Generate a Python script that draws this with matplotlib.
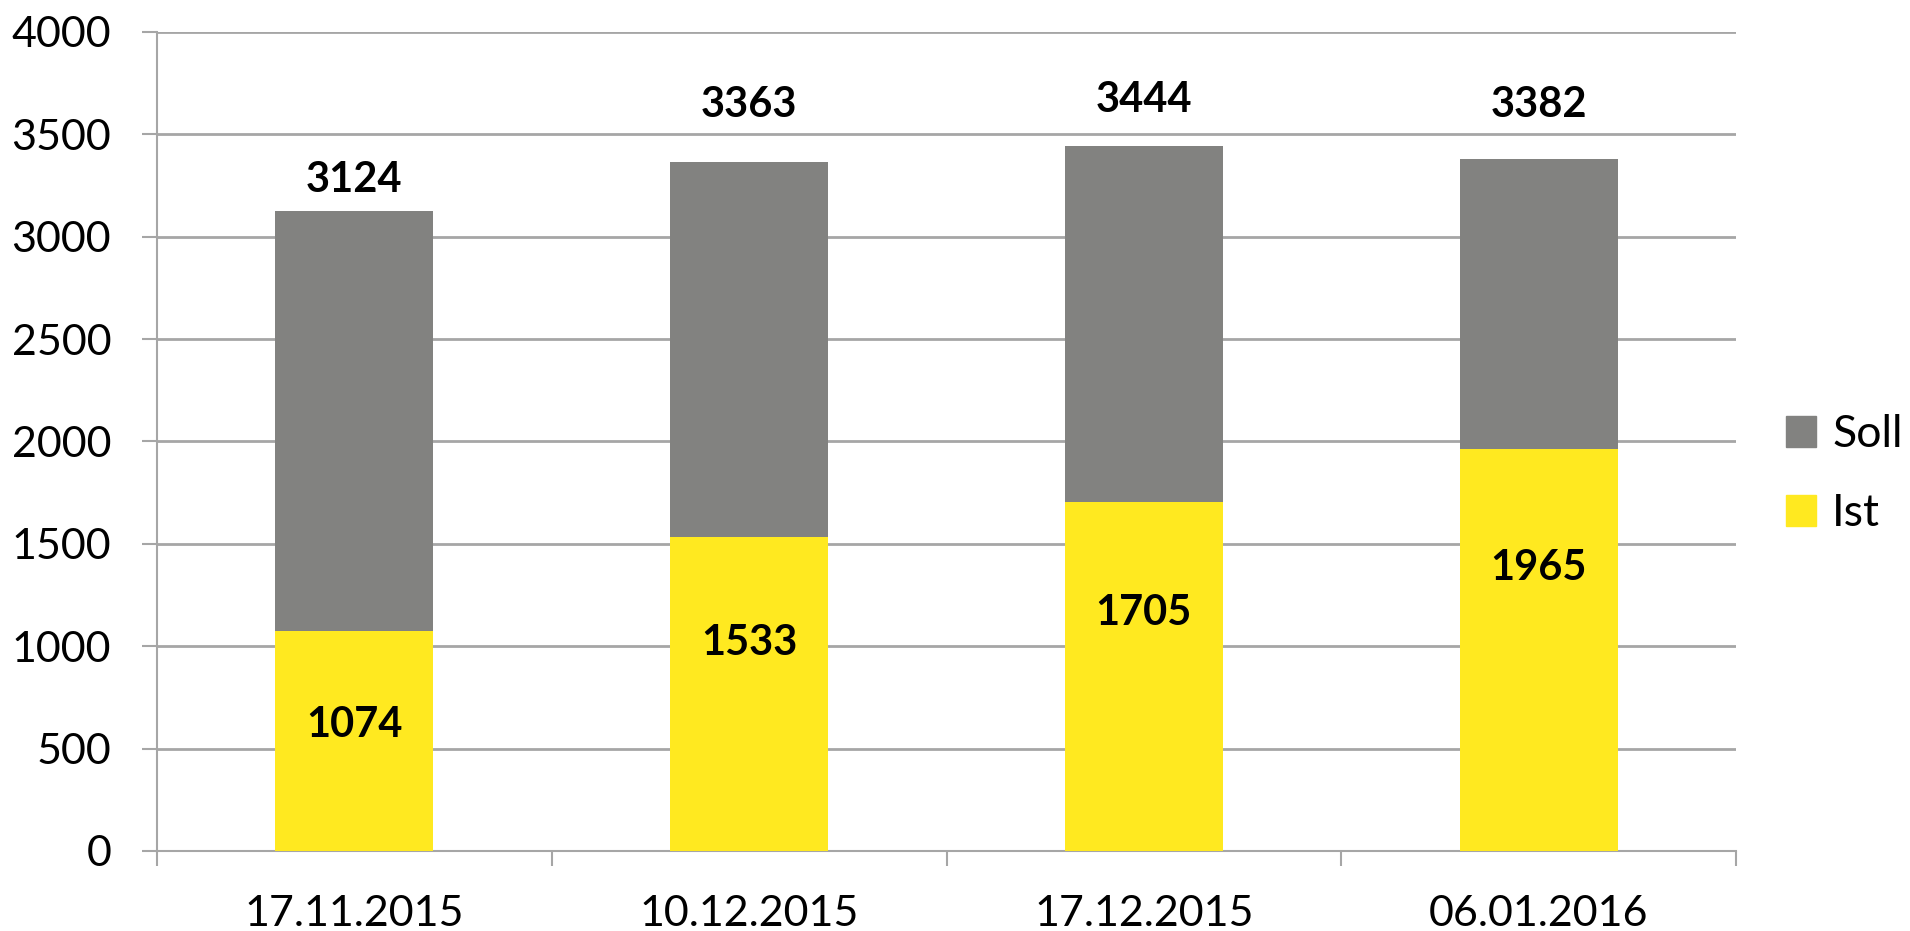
import matplotlib
matplotlib.use("Agg")
import matplotlib.pyplot as plt
from matplotlib.patches import Patch
import numpy as np

categories = ["17.11.2015", "10.12.2015", "17.12.2015", "06.01.2016"]
soll = [3124, 3363, 3444, 3382]
ist = [1074, 1533, 1705, 1965]
yticks = [0, 500, 1000, 1500, 2000, 2500, 3000, 3500, 4000]
# vertical placement of the value labels as seen in the reference
soll_label_y = [3278, 3645, 3669, 3645]
ist_label_y = [614, 1015, 1162, 1382]

GREY = "#828280"
YELLOW = "#FFE920"
GRID = "#A6A6A6"

plt.rcParams["font.family"] = ["Lato", "DejaVu Sans"]

fig = plt.figure(figsize=(19.10, 9.31), dpi=100)
ax = fig.add_axes([157/1910, 1-851/931, (1736-157)/1910, (851-32)/931])

x = np.arange(len(categories))
w = 0.40
ax.bar(x, soll, width=w, color=GREY, zorder=2)
ax.bar(x, ist, width=w, color=YELLOW, zorder=3)

for xi, s, sy, i, iy in zip(x, soll, soll_label_y, ist, ist_label_y):
    ax.text(xi, sy, str(s), ha="center", va="center", fontsize=30, fontweight="bold", zorder=4)
    ax.text(xi, iy, str(i), ha="center", va="center", fontsize=30, fontweight="bold", zorder=4)

ax.set_xlim(-0.5, len(categories)-0.5)
ax.set_ylim(0, 4000)
ax.set_yticks(yticks)
ax.set_yticklabels([str(t) for t in yticks], fontsize=31)
ax.yaxis.grid(True, color=GRID, linewidth=2, zorder=0)
ax.set_axisbelow(True)
ax.tick_params(axis="y", length=11, width=1.5, color=GRID, pad=22)

ax.set_xticks(x)
ax.set_xticklabels(categories, fontsize=31)
ax.tick_params(axis="x", which="major", length=0, pad=32)
ax.set_xticks(np.arange(len(categories)+1) - 0.5, minor=True)
ax.tick_params(axis="x", which="minor", length=11, width=1.5, color=GRID)

for s in ["top", "right"]:
    ax.spines[s].set_visible(False)
for s in ["left", "bottom"]:
    ax.spines[s].set_color(GRID)
    ax.spines[s].set_linewidth(1.5)

handles = [Patch(color=GREY), Patch(color=YELLOW)]
fig.legend(handles, ["Soll", "Ist"], loc="center left", bbox_to_anchor=(1786/1910, 1-474/931),
           frameon=False, fontsize=32, handlelength=0.68, handleheight=0.68,
           handletextpad=0.36, labelspacing=0.85, borderaxespad=0, borderpad=0)

fig.savefig("out.png", dpi=100, facecolor="white")
